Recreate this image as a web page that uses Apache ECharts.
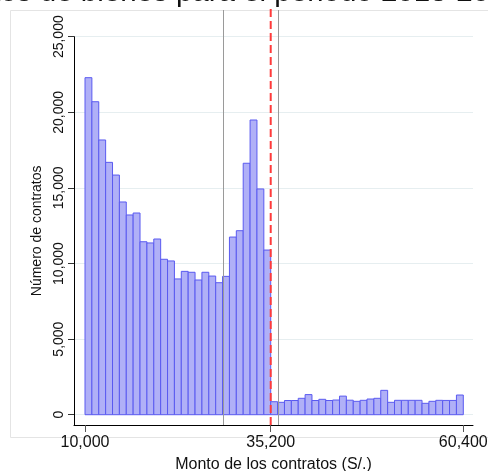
<!DOCTYPE html>
<html><head><meta charset="utf-8">
<script src="https://cdn.jsdelivr.net/npm/echarts@6/dist/echarts.min.js"></script>
<style>html,body{margin:0;padding:0;background:#fff}#c{width:488px;height:471px}</style>
</head><body><div id="c"></div>
<script>
// Histogram bins (bin index 0..54), counts
var binCounts = [
  22290, 20700, 18170, 16690, 15850, 14070, 13210, 13340, 11440, 11360,
  11620, 10280, 10170, 8980, 9480, 9420, 8910, 9420, 9170, 8730,
  9150, 11750, 12170, 16630, 19490, 14930, 10890,
  860, 820, 940, 940, 1085, 1330, 940, 1019, 940, 972,
  1230, 960, 886, 952, 1038, 1085, 1613, 820, 952, 952,
  952, 952, 754, 886, 952, 945, 945, 1303
];
var xTickBins = [0, 27, 55];
var xTickLabels = ['10,000', '35,200', '60,400'];
var yTicks = [0, 5000, 10000, 15000, 20000, 25000];
var grayLinesBins = [20, 28.1];
var redLineBins = [27];
var titleText = 'Distribución de los montos de bienes para el periodo 2018-2021';
var xTitle = 'Monto de los contratos (S/.)';
var yTitle = 'Número de contratos';

var chart = echarts.init(document.getElementById('c'), null, {renderer: 'canvas'});
var FONT = 'Liberation Sans, Arial, sans-serif';

function fmt(v){ return Math.round(v).toString().replace(/\B(?=(\d{3})+(?!\d))/g, ','); }

chart.setOption({
  animation: false,
  backgroundColor: '#fff',
  grid: {left: 74, right: 15, top: 36.7, bottom: 46, containLabel: false, outerBoundsMode: 'none'},
  xAxis: {
    type: 'value', min: -1.6, max: 56.41,
    name: xTitle, nameLocation: 'middle', nameGap: 32,
    nameTextStyle: {fontFamily: FONT, fontSize: 16, color: '#111'},
    axisLine: {show: true, onZero: false, lineStyle: {color: '#000', width: 1}},
    axisTick: {show: true, length: 7, customValues: xTickBins, lineStyle: {color: '#555'}},
    axisLabel: {customValues: xTickBins, margin: 10, fontFamily: FONT, fontSize: 16, color: '#111',
      hideOverlap: false,
      formatter: function(v){ var k = xTickBins.indexOf(v); return k >= 0 ? xTickLabels[k] : ''; }},
    splitLine: {show: false}
  },
  yAxis: {
    type: 'value', min: -680, max: 25000,
    name: yTitle, nameLocation: 'middle', nameGap: 30, nameRotate: 90,
    nameTextStyle: {fontFamily: FONT, fontSize: 14, color: '#111'},
    axisLine: {show: true, onZero: false, lineStyle: {color: '#000', width: 1}},
    axisTick: {show: true, length: 6, customValues: yTicks, lineStyle: {color: '#333'}},
    axisLabel: {customValues: yTicks, rotate: 90, margin: 8, fontFamily: FONT, fontSize: 14, color: '#111',
      formatter: function(v){ return fmt(v); }},
    splitLine: {show: true, lineStyle: {color: '#e6eef0', width: 1}}
  },
  graphic: [
    {type: 'rect', z: -1, shape: {x: 10.5, y: 10.5, width: 490, height: 427}, style: {fill: 'none', stroke: '#e4e4e4', lineWidth: 1}, silent: true},
    {type: 'text', x: 522, y: 8, style: {text: titleText, align: 'right', verticalAlign: 'bottom', fontFamily: FONT, fontSize: 29.5, fill: '#111'}}
  ],
  series: [
    {
      type: 'custom', name: 'bins',
      data: binCounts.map(function(v, i){ return [i, v]; }),
      encode: {x: 0, y: 1},
      renderItem: function(params, api){
        var i = api.value(0), v = api.value(1);
        var p0 = api.coord([i, 0]);
        var p1 = api.coord([i + 1, v]);
        return {type: 'rect', shape: {x: p0[0], y: p1[1], width: p1[0] - p0[0], height: p0[1] - p1[1]},
          style: {fill: '#b0b0f7', stroke: '#5a5af0', lineWidth: 1}};
      }
    },
    {
      type: 'custom', name: 'gray', clip: false, z: 5,
      data: grayLinesBins.map(function(b){ return [b, 0]; }),
      encode: {x: 0},
      renderItem: function(params, api){
        var p = api.coord([api.value(0), -680]);
        var x = Math.round(p[0]) + 0.5;
        return {type: 'line', shape: {x1: x, y1: 10, x2: x, y2: p[1]}, style: {stroke: '#9a9a9a', lineWidth: 1}};
      }
    },
    {
      type: 'custom', name: 'red', clip: false, z: 6,
      data: redLineBins.map(function(b){ return [b, 0]; }),
      encode: {x: 0},
      renderItem: function(params, api){
        var p = api.coord([api.value(0), -680]);
        var x = p[0];
        return {type: 'line', shape: {x1: x, y1: 9, x2: x, y2: p[1]}, style: {stroke: '#ff3b3b', lineWidth: 2, lineDash: [8, 4]}};
      }
    }
  ]
});
</script></body></html>
